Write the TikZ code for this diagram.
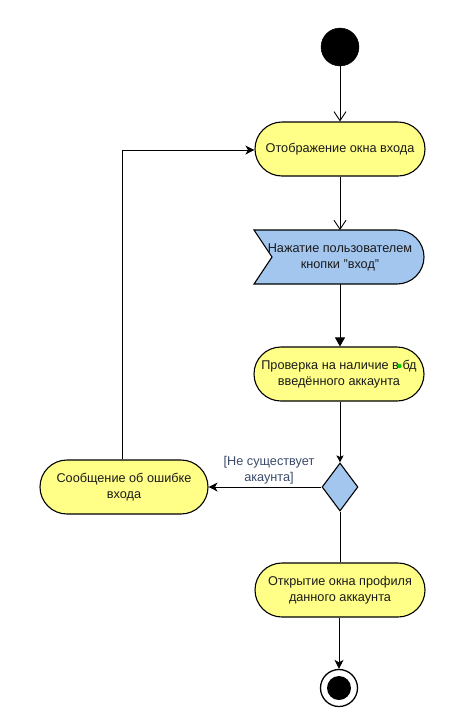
\documentclass[tikz,border=0pt]{standalone}
\usepackage{fontspec}
\setmainfont{Liberation Sans}
\usetikzlibrary{arrows.meta,shapes.geometric}
\definecolor{actfill}{HTML}{FFFF88}
\definecolor{evfill}{HTML}{A3C6EF}
\definecolor{txt}{HTML}{1A1A1A}
\definecolor{lbl}{HTML}{3A4A6A}
\begin{document}
\begin{tikzpicture}[x=1pt,y=-1pt,
  act/.style={draw=black,line width=1.1pt,fill=actfill,rounded corners=27pt,
    minimum width=170pt,minimum height=54pt,inner sep=0pt,align=center,
    text=txt,font=\fontsize{12.7}{16}\selectfont},
  flow/.style={draw=black,line width=0.9pt},
  openarr/.style={flow,-{Straight Barb[length=9pt,width=12pt,line width=0.9pt]}},
  blockarr/.style={flow,-{Triangle[length=9pt,width=10pt]}},
  classicarr/.style={flow,-{Stealth[length=9pt,width=9pt,inset=2.5pt]}},
  smallarr/.style={flow,-{Stealth[length=7pt,width=7pt,inset=1.5pt]}},
  lab/.style={text=lbl,align=center,font=\fontsize{12.7}{16}\selectfont,inner sep=1pt}
]
\useasboundingbox (0,0) rectangle (462,710);
% start
\node[circle,fill=black,draw=black,minimum size=38pt,inner sep=0pt] (start) at (340,47) {};
% activities
\node[act] (show) at (340,149) {Отображение окна входа};
% event (accept signal) shape
\draw[line width=1.1pt,fill=evfill]
  (254,230) -- (397,230) arc[start angle=-90,end angle=90,x radius=27pt,y radius=-27pt]
  -- (254,284) -- (272,257) -- cycle;
\node[text=txt,align=center,font=\fontsize{12.7}{16}\selectfont,inner sep=0pt] (press) at (340,257) {Нажатие пользователем\\кнопки "вход"};
\coordinate (pressTop) at (340,230);
\coordinate (pressBot) at (340,284);
\node[act] (check) at (339,374) {Проверка на наличие в бд\\введённого аккаунта};
\fill[green!80!black] (399.5,366) circle[radius=2.2pt];
\node[diamond,draw=black,line width=1.1pt,fill=evfill,minimum width=36pt,minimum height=48pt,inner sep=0pt,aspect=0.75] (dec) at (340,487) {};
\node[act,minimum width=168pt] (err) at (124,487) {Сообщение об ошибке\\входа};
\node[act] (open) at (340,590) {Открытие окна профиля\\данного аккаунта};
% end
\node[circle,draw=black,line width=1.3pt,fill=white,minimum size=37pt,inner sep=0pt] (endo) at (339,688) {};
\node[circle,fill=black,minimum size=24pt,inner sep=0pt] (endi) at (339,688) {};
% connectors
\draw[openarr] (start) -- (show);
\draw[openarr] (show) -- (pressTop);
\draw[blockarr] (pressBot) -- (check.north-|pressBot);
\draw[smallarr] (check.south-|dec) -- (dec.north);
\draw[classicarr] (dec.west) -- (err.east);
\draw[flow] (dec.south) -- (open.north-|dec);
\draw[classicarr] (open.south-|endo) -- (endo.north);
\coordinate (corner) at (122,150);
\draw[classicarr] (err.north-|corner) -- (corner) -- (show.west|-corner);
\node[lab] (cond) at (269,470) {[Не существует\\акаунта]};
\end{tikzpicture}
\end{document}
